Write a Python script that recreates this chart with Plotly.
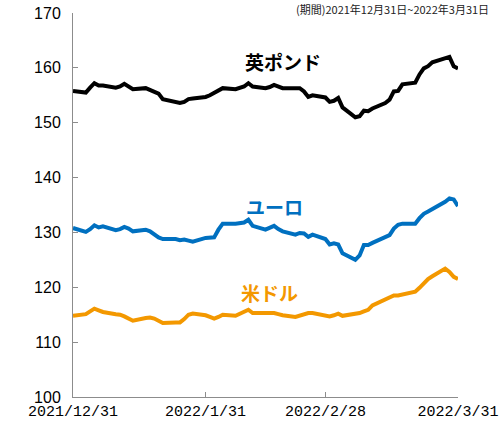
import plotly.graph_objects as go

dates = [
    "2021-12-31",
    "2022-01-03", "2022-01-04", "2022-01-05", "2022-01-06", "2022-01-07",
    "2022-01-10", "2022-01-11", "2022-01-12", "2022-01-13", "2022-01-14",
    "2022-01-17", "2022-01-18", "2022-01-19", "2022-01-20", "2022-01-21",
    "2022-01-24", "2022-01-25", "2022-01-26", "2022-01-27", "2022-01-28",
    "2022-01-31", "2022-02-01", "2022-02-02", "2022-02-03", "2022-02-04",
    "2022-02-07", "2022-02-08", "2022-02-09", "2022-02-10", "2022-02-11",
    "2022-02-14", "2022-02-15", "2022-02-16", "2022-02-17", "2022-02-18",
    "2022-02-21", "2022-02-22", "2022-02-23", "2022-02-24", "2022-02-25",
    "2022-02-28", "2022-03-01", "2022-03-02", "2022-03-03", "2022-03-04",
    "2022-03-07", "2022-03-08", "2022-03-09", "2022-03-10", "2022-03-11",
    "2022-03-14", "2022-03-15", "2022-03-16", "2022-03-17", "2022-03-18",
    "2022-03-21", "2022-03-22", "2022-03-23", "2022-03-24", "2022-03-25",
    "2022-03-28", "2022-03-29", "2022-03-30", "2022-03-31",
]

gbp = [
    155.8,
    155.5, 156.4, 157.2, 156.8, 156.8,
    156.4, 156.6, 157.1, 156.6, 156.1,
    156.3, 156.0, 155.6, 155.3, 154.3,
    153.8, 153.6, 153.8, 154.3, 154.4,
    154.7, 155.0, 155.4, 155.8, 156.3,
    156.1, 156.4, 156.6, 157.2, 156.6,
    156.3, 156.5, 156.9, 156.6, 156.3,
    156.3, 156.3, 155.7, 154.7, 155.0,
    154.6, 153.8, 154.0, 154.5, 152.8,
    151.0, 151.2, 152.2, 152.1, 152.6,
    153.6, 154.2, 155.7, 155.8, 157.0,
    157.3, 158.8, 159.9, 160.3, 161.0,
    161.8, 162.0, 160.3, 159.9,
]

eur = [
    130.8,
    130.1, 130.6, 131.3, 130.9, 131.1,
    130.4, 130.6, 131.0, 130.7, 130.2,
    130.5, 130.2, 129.6, 129.1, 128.8,
    128.8, 128.6, 128.7, 128.5, 128.3,
    129.0, 129.1, 129.1, 130.5, 131.6,
    131.6, 131.7, 131.8, 132.3, 131.2,
    130.5, 130.9, 131.2, 130.6, 130.2,
    129.6, 129.9, 129.8, 129.2, 129.6,
    128.8, 127.8, 128.0, 127.8, 126.2,
    125.0, 125.8, 127.7, 127.7, 128.1,
    129.1, 129.5, 130.7, 131.4, 131.6,
    131.6, 132.6, 133.4, 133.8, 134.2,
    135.6, 136.2, 136.0, 134.8,
]

usd = [
    114.8,
    115.1, 115.6, 116.1, 115.8, 115.5,
    115.1, 115.0, 114.7, 114.2, 113.9,
    114.4, 114.5, 114.3, 113.9, 113.5,
    113.6, 113.6, 114.2, 115.0, 115.2,
    114.9, 114.6, 114.3, 114.6, 115.0,
    114.8, 115.2, 115.5, 115.9, 115.3,
    115.4, 115.4, 115.3, 115.1, 114.9,
    114.6, 114.8, 115.0, 115.3, 115.3,
    114.9, 114.7, 114.9, 115.2, 114.8,
    115.1, 115.3, 115.6, 115.9, 116.7,
    117.9, 118.2, 118.5, 118.5, 118.7,
    119.2, 119.9, 120.8, 121.5, 122.0,
    123.4, 122.8, 121.9, 121.5,
]

series_names = ["英ポンド", "ユーロ", "米ドル"]
x_tick_dates = ["2021-12-31", "2022-01-31", "2022-02-28", "2022-03-31"]
x_tick_labels = ["2021/12/31", "2022/1/31", "2022/2/28", "2022/3/31"]
y_ticks = [100, 110, 120, 130, 140, 150, 160, 170]
title_text = "(期間)2021年12月31日~2022年3月31日"

colors = ["#000000", "#0070C0", "#F39800"]

fig = go.Figure()
for name, vals, c in zip(series_names, [gbp, eur, usd], colors):
    fig.add_trace(go.Scatter(x=dates, y=vals, mode="lines", name=name,
                             line=dict(color=c, width=4), showlegend=False,
                             hoverinfo="skip"))

label_pos = [("2022-02-18", 161.1), ("2022-02-16", 134.8), ("2022-02-15", 119.0)]
for name, (lx, ly), c in zip(series_names, label_pos, colors):
    fig.add_annotation(x=lx, y=ly, text="<b>" + name + "</b>", showarrow=False,
                       font=dict(family="Noto Sans CJK JP", size=19, color=c))

fig.add_annotation(xref="paper", yref="paper", x=1.083, y=1.0,
                   yshift=4, xanchor="right", yanchor="middle", text=title_text,
                   showarrow=False, borderpad=0,
                   font=dict(family="Noto Sans CJK JP", size=11, color="#222222"))

fig.update_layout(
    width=503, height=427,
    margin=dict(l=73, r=45, t=13, b=30, autoexpand=False),
    paper_bgcolor="white", plot_bgcolor="white",
    xaxis=dict(type="date", range=["2021-12-31", "2022-03-31"],
               tickvals=x_tick_dates, ticktext=x_tick_labels,
               automargin=False,
               showgrid=False, zeroline=False,
               showline=True, linecolor="#8c8c8c", linewidth=1,
               ticks="inside", ticklen=5, tickcolor="#8c8c8c",
               tickfont=dict(family="Liberation Mono", size=15, color="#000000")),
    yaxis=dict(range=[100, 170], tickvals=y_ticks,
               automargin=False,
               showgrid=False, zeroline=False,
               showline=True, linecolor="#8c8c8c", linewidth=1,
               ticks="inside", ticklen=5, tickcolor="#8c8c8c",
               ticklabelstandoff=8,
               tickfont=dict(family="Liberation Sans", size=16, color="#000000")),
)

fig.write_html("out.html",
               config={"displayModeBar": False},
               post_script="document.body.style.margin='0';document.body.style.padding='0';document.body.style.overflow='hidden';")
